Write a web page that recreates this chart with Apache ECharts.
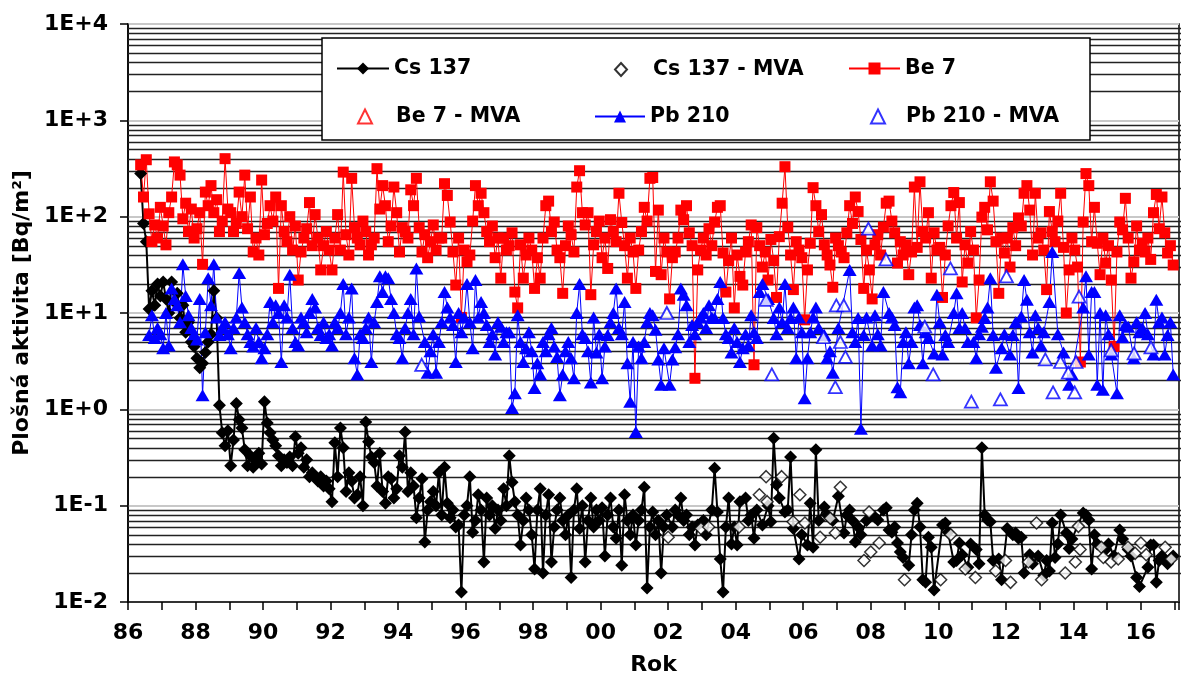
<!DOCTYPE html>
<html>
<head>
<meta charset="UTF-8">
<title>Plošná aktivita</title>
<script src="https://cdn.jsdelivr.net/npm/echarts@6/dist/echarts.min.js"></script>
<style>
html, body { margin: 0; padding: 0; background: #fff; }
#chart { width: 1182px; height: 689px; }
</style>
</head>
<body>
<div id="chart"></div>
<script>
// monthly samples, first value = May 1986
var startYear = 1986, startMonth = 5;

var cs137 = [
  280, 85, 55, 11, 17, 12, 20, 15,
  21, 14, 10, 21, 13, 16, 8.9, 12, 6.3, 8, 5, 4.5,
  3.4, 2.7, 3, 3.9, 5, 6, 17, 8.9, 1.1, 0.57, 0.42, 0.6,
  0.26, 0.48, 1.15, 0.78, 0.64, 0.38, 0.26, 0.33, 0.25, 0.3, 0.35, 0.27,
  1.2, 0.72, 0.57, 0.48, 0.42, 0.33, 0.26, 0.3, 0.28, 0.32, 0.26, 0.52,
  0.35, 0.4, 0.25, 0.3, 0.2, 0.22, 0.2, 0.18, 0.2, 0.16, 0.18, 0.15,
  0.11, 0.45, 0.2, 0.64, 0.4, 0.14, 0.22, 0.18, 0.12, 0.13, 0.2, 0.1,
  0.74, 0.46, 0.32, 0.28, 0.16, 0.35, 0.14, 0.106, 0.2, 0.19, 0.12, 0.15,
  0.33, 0.25, 0.58, 0.14, 0.22, 0.16, 0.075, 0.12, 0.19, 0.042, 0.09, 0.11,
  0.14, 0.1, 0.22, 0.08, 0.25, 0.106, 0.075, 0.09, 0.06, 0.063, 0.0127, 0.08,
  0.1, 0.2, 0.053, 0.07, 0.13, 0.09, 0.026, 0.12, 0.08, 0.1, 0.058, 0.09,
  0.07, 0.15, 0.1, 0.33, 0.175, 0.11, 0.08, 0.039, 0.07, 0.12, 0.09, 0.05,
  0.022, 0.09, 0.15, 0.02, 0.08, 0.13, 0.026, 0.06, 0.09, 0.12, 0.07, 0.05,
  0.08, 0.018, 0.09, 0.15, 0.058, 0.1, 0.026, 0.07, 0.12, 0.06, 0.09, 0.07,
  0.095, 0.03, 0.08, 0.12, 0.06, 0.046, 0.09, 0.024, 0.13, 0.07, 0.05, 0.08,
  0.039, 0.07, 0.09, 0.155, 0.014, 0.06, 0.086, 0.05, 0.07, 0.02, 0.06, 0.08,
  null, 0.06, 0.09, 0.08, 0.12, 0.07, 0.08, 0.05, 0.06, 0.039, 0.063, null,
  0.07, 0.05, null, 0.09, 0.245, 0.086, 0.028, 0.0127, 0.06, 0.12, 0.04, 0.06,
  0.039, 0.11, null, 0.12, 0.07, 0.08, 0.046, 0.09, null, 0.063, null, 0.1,
  0.068, 0.5, 0.165, 0.12, null, 0.086, 0.09, 0.32, 0.058, null, 0.028, 0.05,
  null, 0.039, 0.106, 0.037, 0.38, 0.07, null, 0.097, 0.08, null, 0.07, null,
  0.125, null, 0.052, 0.08, 0.09, 0.07, 0.042, 0.06, 0.05, null, 0.07, null,
  null, 0.076, 0.071, null, 0.09, 0.095, 0.056, 0.053, 0.06, 0.041, 0.033, 0.029,
  null, 0.024, 0.05, 0.09, 0.106, 0.06, 0.017, 0.016, 0.047, 0.037, 0.0133, null,
  null, 0.063, 0.066, 0.053, null, 0.026, 0.027, 0.041, 0.031, null, 0.023, 0.04,
  null, 0.035, 0.025, 0.4, 0.08, 0.071, 0.068, 0.027, null, 0.028, 0.017, null,
  0.058, null, 0.05, 0.052, 0.046, 0.047, 0.02, null, 0.031, 0.025, null, 0.03,
  null, 0.019, 0.027, 0.021, 0.066, 0.029, 0.04, 0.08, null, 0.052, 0.036, 0.045,
  null, null, null, 0.084, 0.08, 0.071, 0.022, 0.05, 0.04, null, null, 0.035,
  0.04, null, 0.03, null, 0.056, 0.045, null, 0.035, 0.03, null, 0.018, 0.0145,
  null, null, 0.023, 0.039, 0.039, 0.016, 0.027, 0.03, null, 0.025, null, 0.03
];

var be7 = [
  345, 160, 390, 107, 55, 82, 60, 125,
  80, 51, 110, 160, 370, 345, 270, 95, 138, 70, 120, 60,
  75, 110, 32, 180, 130, 210, 110, 150, 70, 90, 400, 120,
  110, 70, 85, 180, 100, 270, 75, 160, 43, 60, 40, 240,
  65, 85, 130, 90, 160, 18, 130, 70, 55, 100, 45, 80,
  22, 43, 60, 75, 140, 50, 105, 60, 28, 50, 70, 45,
  28, 60, 105, 45, 290, 65, 40, 250, 77, 60, 51, 90,
  70, 40, 51, 60, 315, 120, 210, 130, 55, 80, 203, 110,
  43, 77, 70, 60, 190, 130, 250, 77, 43, 65, 37.5, 55,
  82, 45, 60, 60, 220, 166, 88, 43, 19.5, 60, 9, 45,
  34, 40, 90, 210, 130, 175, 110, 70, 55, 80, 37.5, 60,
  23, 60, 45, 50, 68, 16.5, 11.3, 51, 23, 40, 60, 45,
  18, 37.5, 23, 60, 130, 145, 70, 88, 45, 37.5, 16, 50,
  80, 65, 43, 203, 300, 110, 82, 110, 15.5, 51, 70, 90,
  37.5, 60, 29, 93, 70, 55, 175, 87, 50, 23, 60, 43,
  18, 45, 70, 125, 90, 250, 255, 27, 117, 25, 60, 43,
  14, 37.5, 43, 60, 117, 93, 130, 68, 50, 2.1, 28, 45,
  60, 40, 75, 50, 88, 125, 130, 42, 16.5, 35, 60, 11.3,
  40, 24, 19.5, 43, 55, 82, 2.9, 77, 50, 30, 43, 22,
  58, 35, 14.5, 62, 138, 330, 78, 40, 17.5, 55, 45, 37.5,
  8.5, 28, 53, 200, 130, 70, 105, 51, 40, 31.5, 18.5, 60,
  50, 43, 37.5, 68, 130, 85, 160, 113, 58, 18, 45, 28,
  14, 51, 65, 40, 78, 138, 145, 90, 68, 33, 55, 40,
  51, 25, 43, 203, 48, 230, 70, 60, 110, 23, 68, 45,
  48, 14.5, 40, 80, 130, 178, 60, 140, 21, 51, 33, 70,
  45, 8.9, 22, 99, 125, 73, 230, 145, 55, 16, 60, 42,
  60, 30, 77, 50, 97, 80, 175, 210, 117, 40, 175, 60,
  68, 45, 17.5, 113, 70, 55, 90, 175, 48, 10, 28, 60,
  45, 30, 3.1, 88, 280, 210, 55, 125, 53, 25, 60, 33,
  50, 22, 4.5, 43, 88, 73, 155, 60, 23, 34, 80, 45,
  53, 43, 60, 36, 110, 170, 75, 160, 68, 42, 50, 31.5
];

var pb210 = [
  null, null, null, 5.9, 9.5, 5.5, 7, 6,
  4.3, 10, 4.6, 18, 14, 12, 8, 32, 15, 9.5, 7, 6,
  5.3, 14, 1.4, 6.3, 23, 12, 32, 9, 5.9, 7, 8, 6,
  4.3, 7, 9, 26, 11.4, 8, 6, 5, 4.5, 7, 5, 3.4,
  4.3, 6, 13, 8, 12, 10, 3.1, 12, 9, 25, 7, 5,
  4.6, 9, 8, 6.3, 10, 14, 11.4, 7, 5.9, 8, 5.5, 6,
  4.6, 8, 7, 10, 20, 6, 9, 18, 3.4, 2.3, 6, 5.5,
  7, 9, 3.1, 8, 13, 24, 16.5, 24, 23, 14, 10, 6,
  5.5, 3.4, 7, 10, 14, 6, 29, 9.2, null, 5, 2.4, 4,
  6, 2.4, 5, 8, 16.5, 11.4, 9, 7.5, 3.1, 10, 6.3, 9,
  20, 8, 4.3, 22, 9, 13, 10, 7.5, 5, 6, 3.7, 8,
  7.2, 5, 6.3, 6.3, 1.03, 1.47, 9.5, 5, 3.1, 4.3, 6.3, 4,
  1.67, 3, 2.3, 5, 4, 6, 7, 4.5, 3.5, 1.4, 2.3, 4,
  5, 3.4, 2.1, 10, 20, 6, 5.5, 4, 1.9, 9, 3.9, 6,
  2.1, 4.5, 5.9, 8, 10, 18, 7, 6, 13, 3, 1.2, 5,
  0.58, 4.5, 3.4, 5, 8, 10, 9.5, 6.7, 3.3, 1.8, 4.3, null,
  1.8, 3.3, 4.4, 6, 18, 15.5, 12, 5, 7.5, 6, 8, 9,
  10, 7, 12, 9, 8.9, 14, 21, 8.9, 6, 5.5, 3.9, 7,
  5, 3.1, 4.3, 6, 4.6, 9.5, 6.3, 5.5, 16.5, 20, null, 14,
  null, 8.9, 6, 11.4, 8, 20, 7, 8.9, 11.4, 3.4, 9, 6.3,
  1.3, 3.4, 6.3, 9, 11.4, 7, null, 5.9, 3.4, 4, 2.4, null,
  7, null, null, null, 28, 6.3, 5, 8.9, 0.63, 5.9, 9, null,
  4.6, 9.5, 6, 4.6, 16.5, null, 10, 9, 7.5, 1.7, 1.5, 5,
  6.3, 3, 5, 11.4, 12, 7.5, 3, 6.3, 5.5, null, 3.8, 15.5,
  8, 3.7, 5.9, 5, null, 10, 16, 7, 10, 7, 5, null,
  5, 3.4, 6, 7.2, 8.9, 11.4, 23, 5.9, 2.7, null, 4.3, 6,
  null, 3.7, 5.9, 8, 1.67, 9.2, 22, 13.7, 6.3, 3.9, 9.5, 7,
  4.6, 6.3, null, 13, 43, null, 6, null, 3.9, null, 1.8, 2.3,
  null, null, null, 11.4, 24, 3.7, 16.5, 16.5, 1.8, 10, 1.6, 9.5,
  6, 3.7, null, 1.47, 9.5, 5.6, 7.5, 7.2, null, 3.4, 8, 6.3,
  7, 10, 6, null, 3.7, 13.7, 8, 9, 3.7, 5.9, 8, 2.3
];

// values below detection limit (MVA): [year, value]
var cs137Mva = [
  [2002.0, 0.047], [2002.97, 0.058], [2003.2, 0.06], [2004.1, 0.06], [2004.7, 0.13],
  [2004.9, 0.2], [2004.93, 0.11], [2005.36, 0.2], [2005.7, 0.068], [2005.9, 0.13],
  [2006.05, 0.066], [2006.5, 0.047], [2006.8, 0.074], [2006.95, 0.052], [2007.1, 0.155],
  [2007.8, 0.027], [2007.95, 0.086], [2008.0, 0.033], [2008.25, 0.041], [2009.0, 0.017],
  [2010.07, 0.017], [2010.37, 0.05], [2010.8, 0.022], [2011.1, 0.018], [2011.7, 0.021],
  [2011.99, 0.027], [2012.14, 0.016], [2012.67, 0.026], [2012.91, 0.066], [2013.06, 0.017],
  [2013.76, 0.02], [2014.06, 0.026], [2014.15, 0.061], [2014.2, 0.035], [2014.83, 0.037],
  [2014.89, 0.029], [2015.12, 0.026], [2015.33, 0.028], [2015.62, 0.037], [2015.83, 0.032],
  [2016.0, 0.041], [2016.16, 0.031], [2016.72, 0.037], [2016.9, 0.028]
];
var be7Mva = [];
var pb210Mva = [
  [1994.7, 2.9], [2001.96, 10], [2004.9, 13.7], [2005.07, 2.3], [2006.6, 5.6],
  [2006.95, 1.7], [2006.98, 12], [2007.1, 5], [2007.2, 12], [2007.25, 3.5],
  [2007.93, 75], [2008.45, 36], [2009.6, 7.2], [2009.85, 2.3], [2010.36, 29],
  [2010.98, 1.2], [2011.84, 1.27], [2012.02, 24], [2013.17, 3.3], [2013.4, 1.5],
  [2013.62, 3.1], [2013.85, 2.4], [2014.04, 1.5], [2014.08, 3.1], [2014.17, 14.8],
  [2015.12, 4.1], [2015.8, 3.8], [2016.3, 4.4]
];

var minorMultipliers = [2, 3, 4, 5, 6, 7, 8, 9];
var decadeExponents = [-2, -1, 0, 1, 2, 3];

var FONT = '"DejaVu Sans", Arial, sans-serif';
var X_MIN = 1986, X_MAX = 2017.13;
var Y_MIN = 0.01, Y_MAX = 10000;
var GRID = { left: 128, right: 1, top: 24, bottom: 87 };

function monthly(vals) {
  var out = [];
  vals.forEach(function (v, i) {
    if (v === null) return;
    out.push([startYear + (startMonth - 1 + i + 0.5) / 12, v]);
  });
  return out;
}

function legendItem(name, left, top, w, h, pad) {
  return {
    data: [name], left: left, top: top, padding: 0, orient: 'horizontal',
    itemWidth: w, itemHeight: h, selectedMode: false, z: 110,
    textStyle: { fontFamily: FONT, fontWeight: 'bold', fontSize: 20.5, color: '#000',
                 padding: [0, 0, 0, pad || 0] }
  };
}

var legendBox = {
  id: 'legendBox', type: 'rect', z: 100,
  shape: { x: 322, y: 38, width: 768, height: 102 },
  style: { fill: '#fff', stroke: '#000', lineWidth: 1.5 }
};

var dom = document.getElementById('chart');
var chart = echarts.init(dom);
chart.setOption({
  animation: false,
  backgroundColor: '#fff',
  grid: { left: GRID.left, right: GRID.right, top: GRID.top, bottom: GRID.bottom, show: true,
          borderColor: '#000', borderWidth: 1.5, backgroundColor: 'transparent' },
  graphic: [legendBox],
  legend: [
    legendItem('Cs 137', 336, 58, 52, 15),
    legendItem('Cs 137 - MVA', 614, 59, 12, 13, 21),
    legendItem('Be 7', 848, 58, 51, 15),
    legendItem('Be 7 - MVA', 357, 106, 14, 14, 19),
    legendItem('Pb 210', 594, 106, 50, 15),
    legendItem('Pb 210 - MVA', 870, 106, 14, 14, 16)
  ],
  xAxis: {
    type: 'value', min: X_MIN, max: X_MAX, interval: 1,
    name: 'Rok', nameLocation: 'middle', nameGap: 52,
    nameTextStyle: { fontFamily: FONT, fontWeight: 'bold', fontSize: 22, color: '#000' },
    axisLine: { lineStyle: { color: '#000', width: 1.5 } },
    axisTick: { show: true, inside: false, length: 8, lineStyle: { color: '#000', width: 1.5 } },
    axisLabel: {
      margin: 20, color: '#000', fontFamily: FONT, fontWeight: 'bold', fontSize: 22,
      formatter: function (v) {
        var r = Math.round(v);
        if (Math.abs(v - r) > 1e-6 || r % 2 !== 0) return '';
        return String(r % 100).padStart(2, '0');
      }
    },
    splitLine: { show: false }
  },
  yAxis: {
    type: 'log', logBase: 10, min: Y_MIN, max: Y_MAX,
    name: 'Plošná aktivita [Bq/m²]', nameLocation: 'middle', nameGap: 92,
    nameTextStyle: { fontFamily: FONT, fontWeight: 'bold', fontSize: 22, color: '#000' },
    axisLine: { show: true, lineStyle: { color: '#000', width: 1.5 } },
    axisTick: { show: true, inside: false, length: 8, lineStyle: { color: '#000', width: 1.5 } },
    axisLabel: {
      margin: 20, color: '#000', fontFamily: FONT, fontWeight: 'bold', fontSize: 22,
      formatter: function (v) {
        var e = Math.round(Math.log10(v));
        return '1E' + (e < 0 ? '-' : '+') + Math.abs(e);
      }
    },
    splitLine: { show: true, lineStyle: { color: '#c8c8c8', width: 2 } }
  },
  series: [
    {
      name: 'Cs 137', type: 'line', z: 5, data: monthly(cs137), showAllSymbol: true,
      symbol: 'diamond', symbolSize: 13,
      lineStyle: { color: '#000', width: 2 },
      itemStyle: { color: '#000' }
    },
    {
      name: 'Cs 137 - MVA', type: 'scatter', z: 5, data: cs137Mva,
      symbol: 'diamond', symbolSize: 12,
      itemStyle: { color: '#fff', borderColor: '#000', borderWidth: 1.5 }
    },
    {
      name: 'Be 7', type: 'line', z: 5, data: monthly(be7), showAllSymbol: true,
      symbol: 'rect', symbolSize: 11,
      lineStyle: { color: '#ff0000', width: 1 },
      itemStyle: { color: '#ff0000' }
    },
    {
      name: 'Be 7 - MVA', type: 'scatter', z: 5, data: be7Mva,
      symbol: 'triangle', symbolSize: 13,
      itemStyle: { color: '#fff', borderColor: '#ff0000', borderWidth: 1.5 }
    },
    {
      name: 'Pb 210', type: 'line', z: 5, data: monthly(pb210), showAllSymbol: true,
      symbol: 'triangle', symbolSize: [14, 12],
      lineStyle: { color: '#0000ff', width: 1 },
      itemStyle: { color: '#0000ff' }
    },
    {
      name: 'Pb 210 - MVA', type: 'scatter', z: 5, data: pb210Mva,
      symbol: 'triangle', symbolSize: [13, 12],
      itemStyle: { color: '#fff', borderColor: '#0000ff', borderWidth: 1.8 }
    }
  ]
});

// minor log grid lines (2..9 in every decade)
function yPixel(v) {
  var p = null;
  try { p = chart.convertToPixel({ yAxisIndex: 0 }, v); } catch (err) { p = null; }
  if (typeof p === 'number' && isFinite(p)) return p;
  // fallback: same log mapping as the axis, over the grid box
  var top = GRID.top, bottom = dom.clientHeight - GRID.bottom;
  var f = (Math.log10(v) - Math.log10(Y_MIN)) / (Math.log10(Y_MAX) - Math.log10(Y_MIN));
  return bottom - f * (bottom - top);
}

var gridDrawn = false;
function drawMinorGrid() {
  if (gridDrawn) return;
  gridDrawn = true;
  var x1 = GRID.left, x2 = dom.clientWidth - GRID.right;
  var els = [legendBox];
  decadeExponents.forEach(function (e) {
    minorMultipliers.forEach(function (m) {
      var v = Number((m * Math.pow(10, e)).toPrecision(3));
      var y = Math.round(yPixel(v)) + 0.5;
      els.push({
        id: 'minor' + e + '_' + m, type: 'line', z: 3, silent: true,
        shape: { x1: x1, y1: y, x2: x2, y2: y },
        style: { stroke: '#222', lineWidth: 1.3 }
      });
    });
  });
  chart.setOption({ graphic: els });
}
drawMinorGrid();
</script>
</body>
</html>
